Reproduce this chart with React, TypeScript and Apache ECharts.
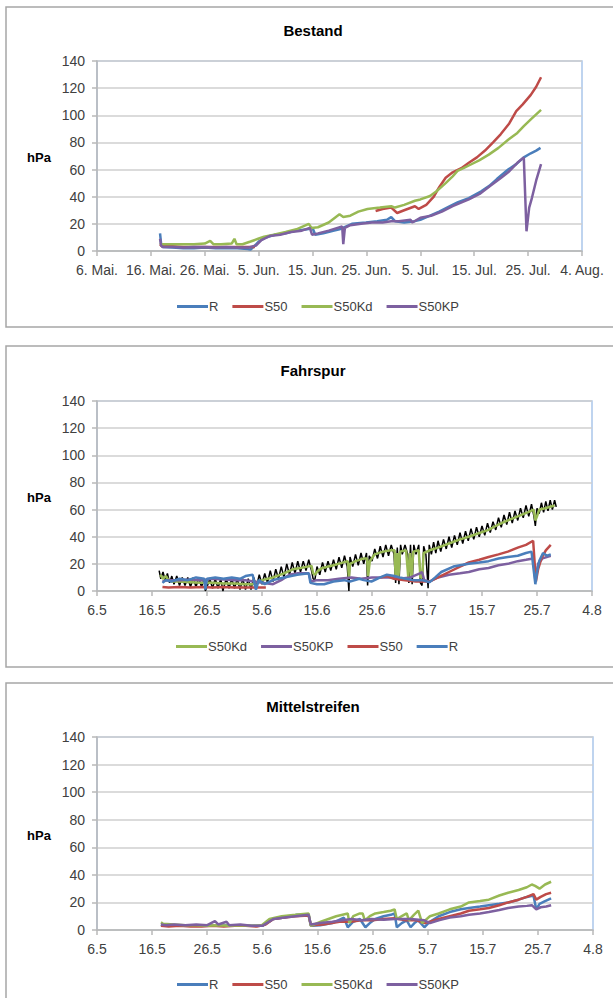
import React, { useEffect, useRef } from "react";
import * as echarts from "echarts";

const bestandLabels = ["6. Mai.", "16. Mai.", "26. Mai.", "5. Jun.", "15. Jun.", "25. Jun.", "5. Jul.", "15. Jul.", "25. Jul.", "4. Aug."];
const numLabels = ["6.5", "16.5", "26.5", "5.6", "15.6", "25.6", "5.7", "15.7", "25.7", "4.8"];
const yTicks = [0, 20, 40, 60, 80, 100, 120, 140];

// Bestand (day since 6 May, hPa)
const bestandR = [[11.7,13],[11.9,5],[12.2,3],[14,2.5],[16,2],[18,2],[20,2.5],[22,2],[24,2],[26,2],[28,1.5],[28.5,1],[29.3,4],[30,7],[31.3,10],[33,12],[35,13],[37,15],[39,16],[40,17],[40.5,12],[42,13],[44,15],[45,16],[47.3,20],[49.9,21],[52,22],[53.8,23],[54.6,25],[55.3,22],[57,21],[59,22],[60,23],[61.8,26],[63.5,29],[65.5,33],[67,36],[69,39],[71.3,44],[72.8,48],[74.2,53],[76.3,60],[77.8,64],[79.2,69],[80.5,72],[81.5,74],[82.3,76]];
const bestandS50 = [[11.7,5],[12,3.5],[14,3.5],[16,3],[18,3],[20,3],[22,3],[24,3],[26,3],[28,3],[29.3,3],[29.6,null],[51.7,29.5],[53,31],[54.6,32],[55.7,28],[57,30],[59,33],[59.7,31],[61.1,34],[62.5,40],[63.5,47],[64.7,54],[66,58],[67.6,61],[69,65],[70.5,69],[72,74],[73.5,80],[74.9,86],[76.5,94],[77.8,103],[79,108],[80.5,115],[81.5,121],[82.4,128]];
const bestandS50Kd = [[11.7,6],[12,5],[14,5],[16,5],[18,5],[20,5.5],[21,7.5],[21.6,5],[23,5],[25,5.5],[25.5,9],[25.9,5],[27,5],[28.5,7],[29.9,9],[31,10.5],[32.8,12],[35,14],[37,16],[39.3,20],[39.8,17],[41,17.5],[43,21],[45,27],[45.7,25],[47,26],[48.5,29],[50.2,31],[52.5,32],[54.6,33],[55.3,32],[57,34],[59,37],[60,38],[61.8,40.5],[63,44],[64.7,50],[66,55],[66.9,59],[68,61],[69,63],[71,67],[72.7,71],[74.5,76],[76.3,82],[78,87],[79.2,92],[80.5,97],[82.4,104]];
const bestandS50KP = [[11.7,9],[11.9,4],[12.2,3],[14,3],[16,2.5],[18,3],[20,3],[22,2.5],[24,3],[26,2.5],[28,2.5],[29.5,4],[30.5,8],[32,11],[34,12],[36,14],[38,15],[39.5,17],[39.9,12],[41,13],[43,15],[45.5,18],[45.7,5],[46,17],[47,19],[49,20],[51,21],[53,21],[54.6,22],[56,22],[58.2,23],[58.5,21],[60,24.5],[62,26],[64,29],[66,33],[69,38],[71,42],[73,48],[75,54],[76.3,58],[78,65],[79.2,69],[79.7,14.5],[80.2,32],[80.7,39],[81.5,52],[82.4,64]];

// Fahrspur
const fahrRaw = [[11.3,15],[11.6,9],[12,14],[12.4,8],[12.8,13],[13.2,6],[13.6,11],[14,5],[14.5,11],[15,4],[15.5,10],[16,4],[16.5,10],[17,3],[17.5,10],[18,3],[18.5,10],[19,3],[19.5,9],[19.7,0],[20,3],[20.5,9],[21,2],[21.5,9],[22,2],[22.5,9],[22.9,0],[23,2],[23.5,9],[24,2],[24.5,9],[25,2],[25.5,9],[26,1],[26.5,9],[27,1],[27.5,9],[28,1],[28.5,10],[29,3],[29.5,12],[30,5],[30.5,13],[31,6],[31.5,15],[32,7],[32.5,16],[33,9],[33.5,18],[34,10],[34.5,20],[35,12],[35.5,21],[36,13],[36.5,22],[37,14],[37.5,22],[38,15],[38.5,23],[39,15],[39.3,9],[39.6,8],[40,18],[40.5,12],[41,21],[41.5,14],[42,22],[42.5,15],[43,23],[43.5,16],[44,25],[44.5,17],[45,26],[45.5,18],[45.8,0],[46,25],[46.5,18],[47,27],[47.5,19],[48,28],[48.5,20],[49,28],[49.2,4],[49.5,26],[50,22],[50.5,31],[51,24],[51.5,33],[52,25],[52.5,34],[53,26],[53.5,34],[54,27],[54.3,6],[54.6,32],[54.9,5],[55.2,34],[55.5,27],[56,34],[56.5,27],[56.7,6],[57,34],[57.3,5],[57.6,34],[58,27],[58.5,34],[58.8,6],[59.1,4],[59.4,33],[59.8,27],[60.2,2],[60.4,34],[60.8,27],[61.2,36],[61.6,28],[62,37],[62.5,29],[63,38],[63.5,31],[64,40],[64.5,32],[65,41],[65.5,34],[66,43],[66.5,35],[67,44],[67.5,37],[68,46],[68.5,38],[69,47],[69.5,40],[70,48],[70.5,41],[71,50],[71.5,43],[72,51],[72.5,45],[73,54],[73.5,47],[74,56],[74.5,49],[75,58],[75.5,50],[76,59],[76.5,52],[77,61],[77.5,54],[78,63],[78.5,55],[79,64],[79.4,56],[79.7,48],[80,61],[80.4,57],[80.8,65],[81.2,58],[81.6,66],[82,59],[82.4,67],[82.8,60],[83.2,67],[83.5,62]];
const fahrS50Kd = [[11.5,12],[12,9],[12.5,11],[13,8],[13.6,7],[15,7],[17,6.5],[19,6],[21,6],[23,5.5],[25,5.5],[27,5],[28.3,5],[28.6,6],[30,8],[32,10],[34,13],[35.6,16],[37,17],[39,18.5],[39.3,13],[39.6,12],[40.2,15],[41,17],[43,19],[45.6,22],[45.8,10],[46,20],[47,22],[48.5,24],[49.1,24],[49.3,11],[49.6,22],[50.5,27],[52,29],[53.4,30],[54.1,30],[54.3,10],[54.6,28],[54.8,10],[55.1,29],[56.2,30],[56.6,10],[56.9,28],[57.2,10],[57.5,29],[58.5,30],[58.8,10],[59.1,10],[59.4,28],[60.5,30],[62,32],[64,35],[66,38],[67.6,40],[69,42],[71.2,45],[73,49],[74.7,52],[76.5,55],[78.3,58],[79.4,60],[79.7,52],[80,55],[80.4,60],[81.5,61],[83.2,63]];
const fahrS50KP = [[11.9,7],[13,8],[15,8],[17,8.5],[19,8],[21,9],[23,8.5],[25,8],[27,8],[28.5,7],[30,6],[32,5],[33.5,8],[35,12],[36.5,13],[38.5,13],[38.9,7],[40,8],[42,8],[44,9],[46.3,10],[48,9],[50,10],[53.4,10],[55,9],[57,10],[58.7,13],[59.1,14],[59.5,8],[60.5,7],[62,10],[64,12],[66,13],[67.6,14],[69.5,16],[71.2,17],[73,19],[74.7,20],[76.5,22],[78,23],[79.3,24],[79.7,8],[80.2,20],[81,24],[82.5,26]];
const fahrS50 = [[11.9,3],[13,2.5],[15,3],[17,2.5],[19,3],[21,2.5],[23,3],[25,2.5],[27,2.5],[29,2.5],[30.7,2.5],[31,null],[51.5,10],[52.7,11],[54,9],[56,8],[58,7],[60.5,7],[62,10],[64,14],[66,18],[67.6,21],[69.5,23],[71.2,25],[73,27],[74.7,29],[76.5,32],[78,34],[79.3,37],[79.8,7],[80.2,16],[80.8,24],[81.6,30],[82.5,34]];
const fahrR = [[11.9,6],[12.5,8],[13.5,7],[15,9],[16.5,8],[18,10],[19.5,9],[19.7,1],[20,9],[21.5,10],[23,9],[24.5,10],[26,9],[27,11],[28.3,12],[28.9,1],[29.4,8],[30.5,5],[32,8],[34,10],[36.4,12],[38.5,13],[38.8,6],[40,5],[41.3,5],[43,7],[44.9,8],[46,7],[47.7,9],[48.5,8],[49.9,7],[51.5,10],[52.7,12],[54.1,11],[55,10],[56.2,9],[57.5,8],[59.1,8],[60.5,6.5],[61.5,10],[62.6,14],[64.8,18],[66,19],[67.6,20],[69.5,21],[71.2,22],[73,24],[74.7,25],[76.5,26],[78,28],[79,29],[79.7,5],[80,14],[80.4,22],[81.1,28],[81.8,26],[82.5,27]];

// Mittelstreifen
const mittR = [[11.6,4],[12,3.5],[14,3.5],[16,3],[18,3],[20,3],[22,3],[24,3.5],[26,3],[28,3],[30,3],[32,8],[34,9],[36.3,11],[38.4,11],[38.8,3],[40.5,3.5],[42.7,5],[44.8,9],[45.5,2],[46.5,6],[47.7,8],[48.7,2],[49.5,5],[50.5,8],[52,10],[53.3,11],[54,12],[54.4,2],[55.3,5],[56.2,7],[56.9,2],[57.6,5],[58.3,7],[59.4,2],[60.4,6],[62,10],[64,13],[66,15],[67.5,16],[69.5,17],[71.1,18],[73,19],[74.6,20],[76.5,22],[78,24],[79.2,25],[79.7,15],[80.3,19],[81.3,21],[82.4,23]];
const mittS50 = [[11.6,3],[13,2.5],[15,3],[17,2.5],[19,2.5],[21,3],[23,2.5],[25,3],[27,3],[29,2.5],[30.6,4],[32,8],[34,9],[36,10],[38.4,10.5],[38.8,3.5],[41,4],[44,6],[46,6],[48,7],[50,7],[52,8],[54,8.5],[56,7],[58,7],[59.4,5],[60.4,6],[62,8],[64,10],[66,12],[67.5,14],[69.5,15],[71.1,16],[73,18],[74.6,20],[76.5,22],[78,24],[79.2,26],[79.7,22],[80.5,24],[81.5,26],[82.4,27]];
const mittS50Kd = [[11.6,5.5],[12,4.5],[14,4],[16,3.5],[18,3.5],[20,3],[22,3.5],[24,3],[26,3.5],[28,3],[29.9,3.4],[31.3,8],[33.5,10],[36,11],[38.4,12],[38.8,3],[40.6,6],[42,8],[43.4,10],[45.5,12],[45.8,5],[46.5,10],[47.7,12],[48.2,12],[48.6,7],[49.5,10],[50.5,12],[52,13],[53.3,14],[54,15],[54.4,8],[55.3,10],[56.2,12],[56.6,7],[57.5,11],[58.3,14],[59,5],[60.4,10],[62,12],[64,15],[66,17],[67.5,20],[69.5,21],[71.1,22],[73,25],[74.6,27],[76.5,29],[78,31],[78.9,33],[79.5,32],[80.3,30],[81.3,33],[82.4,35]];
const mittS50KP = [[11.6,4],[12.5,3.5],[14,4],[16,3.5],[18,4],[20,3.5],[21.4,6.5],[22,4],[23.5,6],[24,3.5],[26,4],[28,3],[30,3],[32,8],[34,9],[36,10],[38.4,11],[38.8,4],[40.5,5],[42.7,6],[44.5,7],[46.2,8],[48,7],[49.8,8],[52,7.5],[54,8],[56.9,8],[59.4,7],[60.4,5],[62,7],[64,9],[66,10],[67.5,11],[69.5,12],[71.1,13],[73,14.5],[74.6,16],[76.5,17],[78,17.5],[78.9,18],[79.7,15],[80.5,16.5],[81.5,17],[82.4,18]];

const COLORS: Record<string, string> = { R: "#4a7ebb", S50: "#be4b48", S50Kd: "#98b954", S50KP: "#7d60a0" };
const FONT = "'Liberation Sans Narrow', 'Liberation Sans', Arial, sans-serif";
const TXT = "#404040";

export default function App() {
  const ref = useRef<HTMLDivElement>(null);
  useEffect(() => {
    if (!ref.current) return;
    const chart = echarts.init(ref.current, undefined, { renderer: "svg" });

    const grids = [
      { left: 97, top: 61, width: 485, height: 190 },
      { left: 97, top: 401, width: 495, height: 190 },
      { left: 97, top: 737, width: 496, height: 193 },
    ];
    const labelSets = [bestandLabels, numLabels, numLabels];

    const xAxis = grids.map((_, i) => ({
      type: "value",
      gridIndex: i,
      min: 0,
      max: 90,
      interval: 10,
      axisLine: { show: true, onZero: false, lineStyle: { color: "#b8b8b8", width: 1.5 } },
      axisTick: { show: true, length: 5, lineStyle: { color: "#b8b8b8", width: 1.5 } },
      splitLine: { show: false },
      axisLabel: {
        margin: 12,
        fontSize: 14,
        fontFamily: FONT,
        color: TXT,
        formatter: (v: number) => labelSets[i][Math.round(v / 10)] ?? "",
      },
    }));
    const yAxis = grids.map((_, i) => ({
      type: "value",
      gridIndex: i,
      min: yTicks[0],
      max: yTicks[yTicks.length - 1],
      interval: 20,
      axisLine: { show: true, lineStyle: { color: "#b8b8b8", width: 1.5 } },
      axisTick: { show: true, length: 5, lineStyle: { color: "#b8b8b8", width: 1.5 } },
      splitLine: { show: true, lineStyle: { color: "#cfcfcf", width: 1.5 } },
      axisLabel: { margin: 12, fontSize: 14, fontFamily: FONT, color: TXT },
    }));

    const mk = (name: string, data: any[], idx: number, color?: string, width = 2.5) => ({
      name,
      type: "line",
      xAxisIndex: idx,
      yAxisIndex: idx,
      data,
      showSymbol: false,
      symbol: "none",
      connectNulls: false,
      color: color ?? COLORS[name],
      lineStyle: { width, color: color ?? COLORS[name] },
      emphasis: { disabled: true },
    });

    const series = [
      mk("R", bestandR, 0),
      mk("S50", bestandS50, 0),
      mk("S50Kd", bestandS50Kd, 0),
      mk("S50KP", bestandS50KP, 0),
      mk("raw", fahrRaw, 1, "#000000", 1.5),
      mk("S50Kd", fahrS50Kd, 1),
      mk("S50KP", fahrS50KP, 1),
      mk("S50", fahrS50, 1),
      mk("R", fahrR, 1),
      mk("R", mittR, 2),
      mk("S50", mittS50, 2),
      mk("S50Kd", mittS50Kd, 2),
      mk("S50KP", mittS50KP, 2),
    ];

    const legendBase = {
      icon: "rect",
      itemWidth: 31,
      itemHeight: 3,
      itemGap: 14,
      selectedMode: false,
      textStyle: { fontSize: 13, fontFamily: FONT, color: TXT, padding: [0, 0, 0, -4] },
    };

    const title = (text: string, y: number) => ({
      type: "text",
      x: 313,
      y,
      style: { text, fontSize: 15, fontWeight: "bold", fontFamily: FONT, fill: "#000", textAlign: "center", textVerticalAlign: "middle" },
    });
    const hpa = (y: number) => ({
      type: "text",
      x: 39,
      y,
      style: { text: "hPa", fontSize: 13, fontWeight: "bold", fontFamily: FONT, fill: "#000", textAlign: "center", textVerticalAlign: "middle" },
    });
    const frame = (y: number, h: number) => ({
      type: "rect",
      shape: { x: 6, y, width: 640, height: h },
      style: { fill: "none", stroke: "#a6a6a6", lineWidth: 1.5 },
      z: -1,
    });

    chart.setOption({
      animation: false,
      backgroundColor: "#ffffff",
      grid: grids.map((g) => ({ ...g, show: true, borderColor: "#aac6ea", borderWidth: 1.5, backgroundColor: "transparent" })),
      xAxis,
      yAxis,
      legend: [
        { ...legendBase, left: 172, top: 295, data: ["R", "S50", "S50Kd", "S50KP"] },
        { ...legendBase, left: 171, top: 635, data: ["S50Kd", "S50KP", "S50", "R"] },
        { ...legendBase, left: 172, top: 973, data: ["R", "S50", "S50Kd", "S50KP"] },
      ],
      graphic: [
        frame(7, 320),
        frame(346, 321),
        frame(683, 340),
        title("Bestand", 30),
        title("Fahrspur", 370),
        title("Mittelstreifen", 706),
        hpa(157),
        hpa(497),
        hpa(835),
      ],
      series,
    });
    return () => chart.dispose();
  }, []);
  return <div ref={ref} style={{ position: "absolute", left: 0, top: 0, width: 613, height: 998 }} />;
}
